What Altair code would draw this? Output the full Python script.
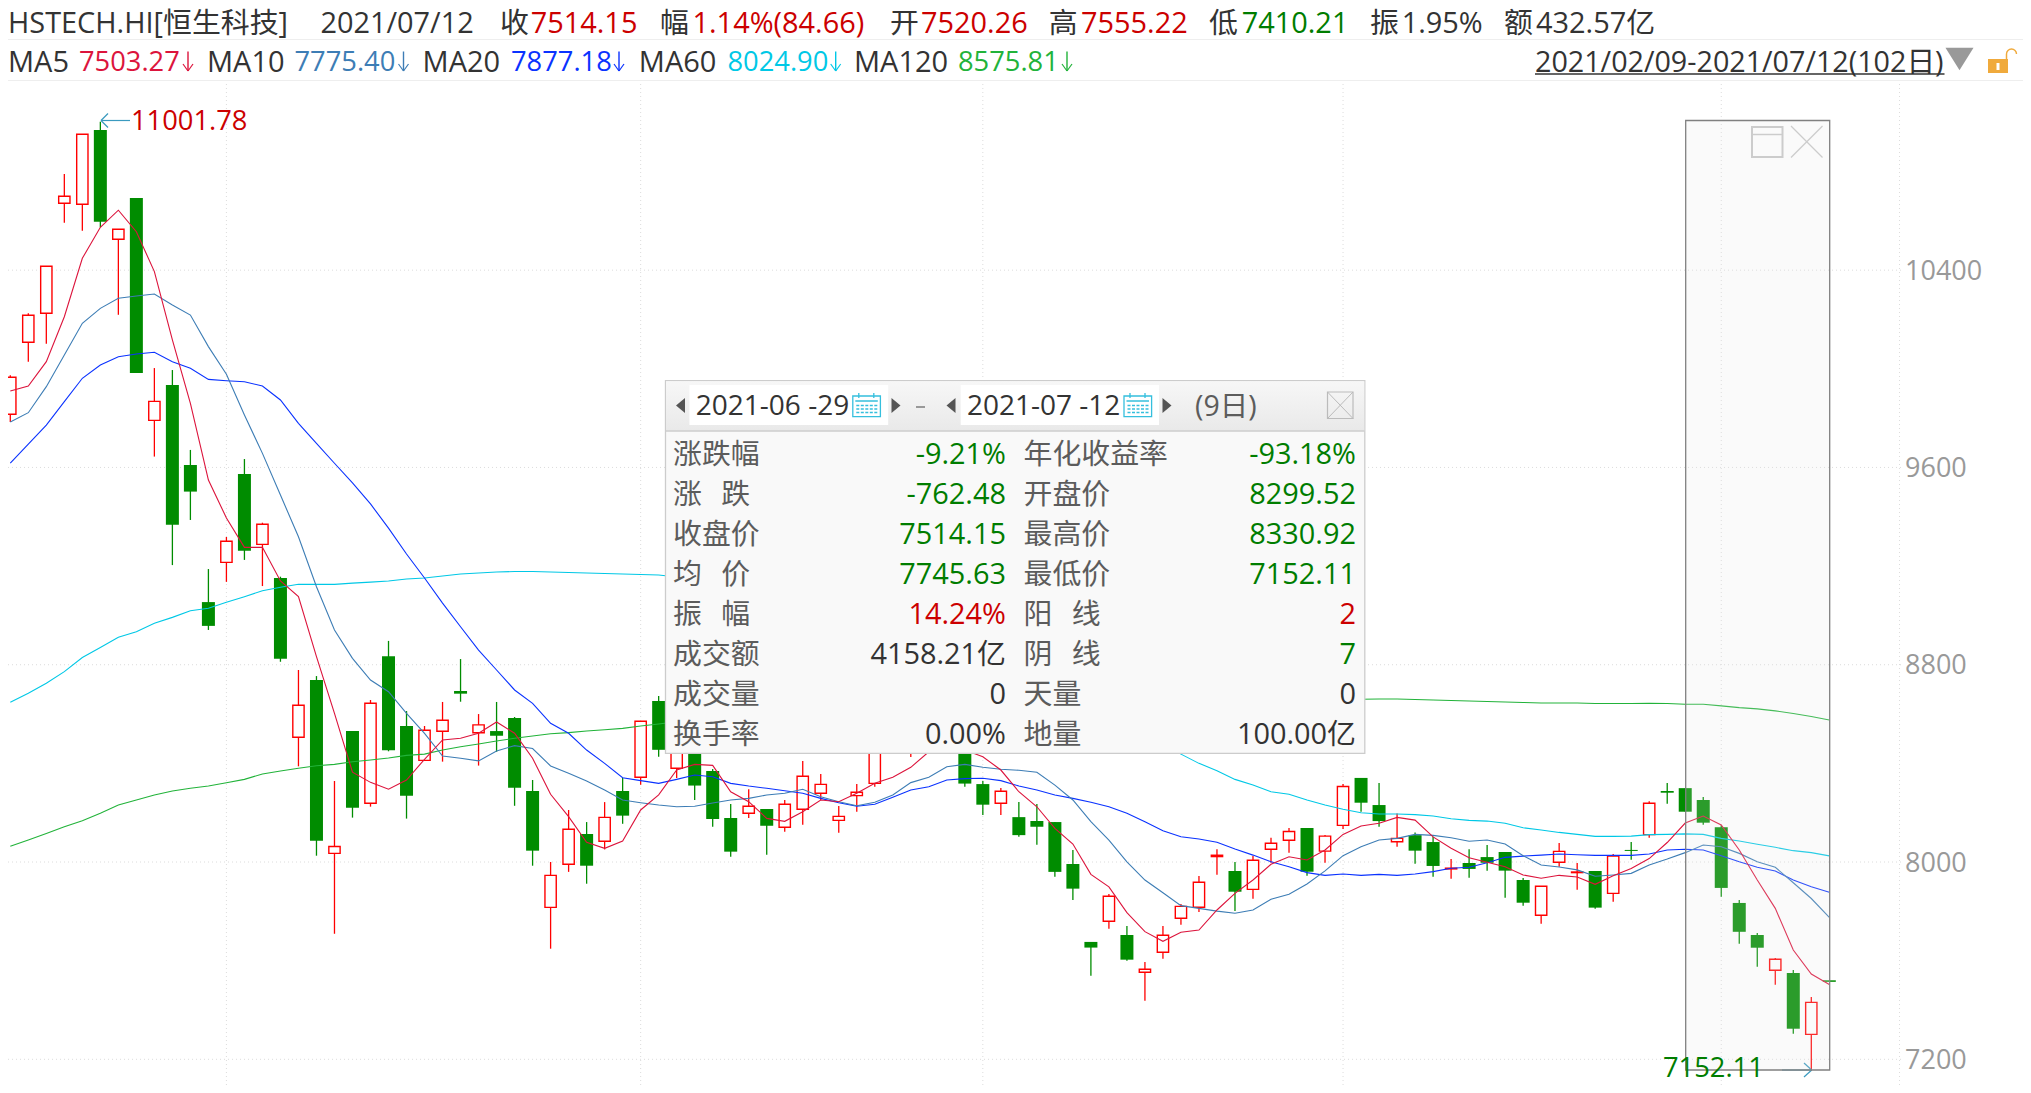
import altair as alt
import pandas as pd

opens = [9815.5,10107.5,10225,10671,10667,10968,10525,10692.6,9791,9934,9610,9054,9215,9573.5,9288,9151.7,8505.7,8738,8035,
8531,8238,8834,8551.6,8412,8530,8693.5,8524,8531,8584,8288,7816,7990.7,8113.6,8084,8288,8343.6,8653,8380,8535,8369,
8178.5,8197.6,8215,8141,8214,8278.6,8169,8269,8319,8474,8474.6,8535,8657,8474.5,8316,8238,8182,8166.3,8162,7992,
7676,7759.6,7704,7553,7634,7772,7816.4,8022,7963.6,7889,8052,8088,8138,8044,8148.6,8341,8231,8082,8109,8081,
7972,7996,8020,8040.6,7927,7784,7999,7957,7963.6,7873,8049,8111,8288,8299.52,8251.5,8141,7834,7704,7561,7550,7301,7520.26]
closes = [9965.5,10217,10416,10699.5,10951,10596,10566,9983,9868,9368,9502,8957.5,9300.5,9262.4,9369.5,8824.5,8635.5,8086.5,8063,
8220,8643.6,8453,8269,8534,8574.7,8682.6,8556,8512,8301,8046,7946,8132.7,7985,8181,8188,8570.6,8455,8515,8310,8174.5,
8042,8226,8147,8234,8347.5,8315,8185,8282.7,8474,8559,8576,8657,8494,8318,8232.5,8287,8109,8143,7960,7892,
7653,7861,7604,7565,7703,7820,7917.8,8027.5,7879.6,8007,8076,8124,7960.6,8105,8306,8240.5,8166,8096,8046,7984,
7975,7972,7997,7965,7835,7901.6,8043,7959.5,7815,8024,8045,8238,8281,8204,8159.5,7895,7717,7652.5,7605.5,7324,7431,7514.15]
highs = [9974,10225,10416,10790,10951,11001.78,10566,10692.6,10003,9995,9671,9188,9318,9634,9376,9157,8778.6,8754,8328.5,
8531,8657,8896.6,8612,8551.6,8649,8823,8600,8649,8588,8332.6,8000,8211,8162,8243,8342,8570.6,8673,8515,8535,8377,
8235.3,8295,8215,8251.5,8409.6,8357,8227,8316,8494,8579,8596,8677,8677,8494,8328.5,8300,8243,8235,8162,8049,
7676,7870,7740.5,7594.5,7740.5,7830,7943,8052,8000,8024,8098,8138,8138,8110,8316,8341,8320,8197,8120,8102.6,
8012,8052,8069,8040.6,7935,7901.6,8077,7996,7963.6,8032.5,8081,8246,8320,8299.52,8263.6,8149,7846,7712,7611,7562,7452.6,7555.22]
lows = [9784,10029,10102,10592,10560,10574,10219,9983,9644,9204,9387,8941,9136,9225,9119,8812,8388,8025.6,7709,
8180,8224.4,8449,8176,8412,8407,8650,8391,8447,8228,7985,7648.5,7960,7912,8051,8155,8313,8427,8340.6,8251.5,8143,
8021.5,8178.5,8029,8123,8151,8251.5,8119,8204,8305,8454,8426,8494,8474,8305,8190.6,8190.6,8102.6,8070,7940,7846,
7539,7729.6,7600,7437.6,7608,7746,7797,7948,7801,7851,7997,8038,7944.5,7997,8133.8,8204,8143,8062,7993,7940.6,
7932,7936,7965,7855,7823,7750,7981,7888,7810,7839,8009,8098.6,8236,8204,8151,7859,7669,7575,7502.5,7304,7152.11,7410.21]

ma5 = [9910,9930,10029,10211,10448,10574,10643,10556,10394,10117,9860,9549,9395,9276,9276,9139.5,9076,8832.6,8603,8364,
8323,8295,8332.6,8416.6,8495,8502,8522,8568,8522,8420.7,8274.6,8184,8080,8055.6,8085,8211,8272,8373,8396,8392,
8285,8244.6,8177,8165,8204,8251.5,8244.6,8278.6,8319,8343.5,8384,8447,8462,8454,8427,8373,8285,8224,8136,8073,
7950,7899,7794.6,7717.5,7678.5,7715,7724,7805.5,7873,7927,7990.7,8021.5,8008,8049,8112,8146,8157,8181,8170,8102,
8055.6,8017.5,7999,7981,7947.6,7934,7946,7939,7909.6,7944,7974,8014,8079,8158,8186.6,8150,8049,7927,7812,7643,7546,7503.27]
ma10 = [9784,9822,9927.5,10056,10184.5,10245,10286,10295,10303,10259,10218,10090,9977.7,9812.7,9657,9488,9319,9116,8941,8826,
8738,8690.6,8603,8522,8430,8420.7,8410,8450.5,8472,8460,8389.6,8360,8328.5,8292,8251.5,8240.6,8231,8224,8226,8239,
8251.5,8258,8272,8278.6,8295,8265,8244.6,8228,8242,8272,8322,8343.5,8386.5,8396,8384,8376,8372,8364,8312,8251.5,
8163.5,8089,8001,7927,7875.5,7823,7812,7801,7792,7805.5,7849,7869,7911,7964,8025.6,8062,8089,8096,8112,8108,
8098.6,8084,8089,8073,8025.6,7988,7980,7968,7942,7947.6,7954,7988,8012,8038,8069,8062,8035,8001,7978.6,7916,7852,7775.40]
ma20 = [9617,9695,9772,9866.6,9961.5,10015.5,10049,10060,10067,10029,10002,9957,9951.8,9947.7,9930,9873.5,9779,9698,9617,9537,
9452,9354,9249,9151.7,9050,8954,8859.6,8778.6,8697.6,8643.6,8562.5,8522,8454,8400,8342,8330,8319,8335,8352.6,8345.6,
8319,8308,8299,8289,8278.6,8258,8240.6,8226,8234,8262.5,8292,8305.5,8332.6,8338,8339.5,8330,8308,8292,8272,8258,
8242,8224,8197.6,8163.5,8127,8102.6,8093,8080,8052.6,8028,8001,7981,7957,7946,7951.5,7946,7950,7946,7951.5,7961,
7975,7979,7997,8019,8024,8028,8032.5,8029.6,8027,8027,8027,8032.5,8049,8051.6,8049,8025.6,8001,7978.6,7963.6,7927,7900,7877.18]
ma60 = [8647.6,8684,8725,8772,8829,8869.5,8911.6,8934,8968.6,8992,9019,9029,9053,9076,9100,9114,9126,9126,9126,9131,
9135,9139.5,9147.6,9151.7,9160,9168,9172,9176,9178,9178,9176,9174,9172,9170,9168,9166,9164,9156,9144,9131,
9115,9099,9083,9062,9042,9022,8998,8973,8949,8925,8900,8872,8844,8815,8787,8759,8730,8702,8674,8645,
8613,8580,8548,8515,8475,8437.5,8400,8370,8335,8312,8285,8274.6,8251.5,8231,8214,8200,8194.6,8194.6,8192,8186.6,
8175.6,8169,8166,8157,8139,8130,8120,8112,8104,8104,8105,8111,8112,8114,8112,8096,8085,8072,8059.6,8046,8038,8024.90]
ma120 = [8063.8,8089,8116,8143,8167.5,8197.6,8231,8251.5,8272,8288,8299,8308,8321.6,8335,8357,8369,8380,8390.6,8396,8406.6,
8413.5,8421.6,8432.5,8437.6,8454,8467.5,8478.5,8490.6,8501.6,8511,8520,8524.6,8531,8536.6,8542,8551.6,8559.6,8569,8576,8580,
8588,8592,8600,8604,8612,8616,8620,8624,8628,8632,8636,8640,8644,8649,8651,8653,8655,8657,8659,8659,
8661,8661,8661,8663,8663,8663,8663,8663,8663,8661,8661,8661,8661,8661,8661,8660,8661,8661,8659,8657,
8655,8653,8651,8649,8647,8645,8645,8645,8643,8643,8643,8644,8643,8640,8640,8633,8626,8621,8613,8602,8590,8575.81]

y_ticks = [7200, 8000, 8800, 9600, 10400]
month_starts = [12, 35, 54, 74, 95]

for arr in (opens, closes, highs, lows, ma5, ma10, ma20, ma60, ma120):
    assert len(arr) == 102, len(arr)

FONT = "Open Sans, Noto Sans CJK SC"
RED, GREEN, DARK = "#cc0000", "#007d00", "#333333"
GREY = "#5c5c5c"
CANDLE_RED, CANDLE_GREEN = "#ff0000", "#008c00"
MA_COL = {"ma5": "#dc143c", "ma10": "#3d7db5", "ma20": "#0a32ff", "ma60": "#00c8e6", "ma120": "#22b33a"}

W, H, M = 2015, 1077, 8
XS = alt.Scale(domain=[-2.3 / 18.01, (W - 2.3) / 18.01], nice=False, zero=False, padding=0)
YS = alt.Scale(domain=[7200 + (1059.3 - 1085) * 4.055, 7200 + (1059.3 - 8) * 4.055], nice=False, zero=False, padding=0)
one = pd.DataFrame({"k": [0]})

df = pd.DataFrame({"i": range(102), "open": opens, "close": closes, "high": highs, "low": lows})
df["top"] = df[["open", "close"]].max(axis=1)
df["bot"] = df[["open", "close"]].min(axis=1)
up = df[df.close >= df.open]
down = df[df.close < df.open]
X = alt.X("i:Q", scale=XS, axis=None)


def Y(f):
    return alt.Y(f + ":Q", scale=YS, axis=None)


def text(s, x, y, color=DARK, size=28.9, align="left", **kw):
    return alt.Chart(one).mark_text(text=s, font=FONT, fontSize=size, color=color, align=align,
                                    baseline="middle", **kw).encode(x=alt.value(x - M), y=alt.value(y - M))


def rect(x0, x1, y0, y1, **kw):
    return alt.Chart(one).mark_rect(**kw).encode(x=alt.value(x0 - M), x2=alt.value(x1 - M),
                                                 y=alt.value(y0 - M), y2=alt.value(y1 - M))


def rule(x0, y0, x1, y1, color, width=1.0, **kw):
    return alt.Chart(one).mark_rule(color=color, strokeWidth=width, **kw).encode(
        x=alt.value(x0 - M), x2=alt.value(x1 - M), y=alt.value(y0 - M), y2=alt.value(y1 - M))


def glyph(path, size, x, y, color):
    return alt.Chart(one).mark_point(shape=path, size=size, filled=True, color=color, opacity=1).encode(
        x=alt.value(x - M), y=alt.value(y - M))


TRI_L = "M0.6,-1L-0.6,0L0.6,1Z"
TRI_R = "M-0.6,-1L0.6,0L-0.6,1Z"
TRI_D = "M-1,-0.8L1,-0.8L0,0.8Z"

layers = []
# grid and price labels
grid_dash = [1, 3]
ticks_df = pd.DataFrame({"tick": y_ticks})
layers.append(alt.Chart(ticks_df).mark_rule(color="#dcdcdc", strokeDash=grid_dash).encode(
    y=Y("tick"), x=alt.value(0), x2=alt.value(1903 - M)))
layers.append(alt.Chart(ticks_df).mark_text(font=FONT, fontSize=27, color="#999999", align="left", baseline="middle", dy=1.5).encode(
    y=Y("tick"), x=alt.value(1905 - M), text="tick:Q"))
layers.append(alt.Chart(pd.DataFrame({"i": month_starts})).mark_rule(color="#dcdcdc", strokeDash=grid_dash).encode(
    x=X, y=alt.value(80 - M), y2=alt.value(H)))
layers.append(rule(1899.5, 80, 1899.5, 1085, "#dcdcdc", strokeDash=grid_dash))
layers.append(rule(8, 39.5, 2023, 39.5, "#eeeeee"))
layers.append(rule(8, 80.5, 2023, 80.5, "#eeeeee"))

# candles
wick_down = down[down.i < 101]
for d, c in ((wick_down, CANDLE_GREEN), (up, CANDLE_RED)):
    layers.append(alt.Chart(d).mark_rule(color=c, strokeWidth=1.3).encode(x=X, y=Y("low"), y2="high:Q"))
layers.append(alt.Chart(down).mark_bar(size=13, color=CANDLE_GREEN).encode(x=X, y=Y("top"), y2="bot:Q"))
layers.append(alt.Chart(up).mark_bar(size=11.3, fill="#ffffff", stroke=CANDLE_RED, strokeWidth=1.4).encode(x=X, y=Y("top"), y2="bot:Q"))

# moving averages
for name, vals in (("ma120", ma120), ("ma60", ma60), ("ma20", ma20), ("ma10", ma10), ("ma5", ma5)):
    layers.append(alt.Chart(pd.DataFrame({"i": range(102), name: vals})).mark_line(color=MA_COL[name], strokeWidth=1.1).encode(x=X, y=Y(name)))

# high / low call-outs
TEAL = "#3a9abf"
layers += [
    rule(130, 120.5, 101, 120.5, TEAL, 1.2), rule(101, 120.5, 108, 113.5, TEAL, 1.2), rule(101, 120.5, 108, 127.5, TEAL, 1.2),
    text("11001.78", 131, 122, RED, 27.3),
    rule(1782, 1070, 1811.7, 1070, TEAL, 1.2), rule(1811.7, 1070, 1804, 1063, TEAL, 1.2), rule(1811.7, 1070, 1804, 1077, TEAL, 1.2),
]

# selected range
layers.append(rect(1685.7, 1829.7, 120.5, 1070, fill="#e5e5e5", fillOpacity=0.19, stroke="#808080", strokeWidth=1.3, strokeOpacity=1))
layers.append(text("7152.11", 1663, 1068.7, GREEN, 27.3))
ICON = "#cccccc"
layers += [
    rect(1752, 1782.5, 127, 157, fillOpacity=0, stroke=ICON, strokeWidth=2),
    rule(1752, 134.5, 1782.5, 134.5, ICON, 1.5),
    rule(1791, 126, 1822.5, 157.5, ICON, 1.2),
    rule(1822.5, 126, 1791, 157.5, ICON, 1.2),
]

# range statistics panel
layers.append(rect(665.5, 1364.8, 380.7, 753.3, fill="#f9f9f9", stroke="#cccccc", strokeWidth=1.3))
layers.append(rect(666, 1364.3, 381.2, 430.7, stroke="#cccccc", strokeWidth=0,
                   fill=alt.Gradient(gradient="linear", x1=0, x2=0, y1=0, y2=1,
                                     stops=[alt.GradientStop(color="#f7f7f7", offset=0), alt.GradientStop(color="#e9e9e9", offset=1)])))
layers.append(rule(666, 431, 1364.5, 431, "#cccccc", 1.3))
CAL = "#35bfdd"
for bx0, bx1, s, tx, cx in ((689.4, 888.2, "2021-06 -29", 695.8, 852.8), (960.7, 1159, "2021-07 -12", 967, 1124)):
    layers.append(rect(bx0, bx1, 385, 425, fill="#ffffff"))
    layers.append(text(s, tx, 406.5, DARK, 28))
    layers.append(rect(cx, cx + 27.6, 396, 416.7, fillOpacity=0, stroke=CAL, strokeWidth=1.3))
    layers.append(rule(cx + 6, 393, cx + 6, 398, CAL, 1.3))
    layers.append(rule(cx + 21, 393, cx + 21, 398, CAL, 1.3))
    layers.append(rule(cx + 2.5, 401, cx + 25, 401, CAL, 1.5))
    for ry in (405.5, 409, 412.5):
        layers.append(rule(cx + 3.5, ry, cx + 24.5, ry, CAL, 1.6, strokeDash=[3, 1.5]))
layers += [
    glyph(TRI_L, 225, 680.5, 405.5, "#555555"), glyph(TRI_R, 225, 896, 405.5, "#555555"),
    glyph(TRI_L, 225, 951, 405.5, "#555555"), glyph(TRI_R, 225, 1167, 405.5, "#555555"),
    rule(916, 407, 925, 407, "#999999", 2),
    text("(9日)", 1195, 406.5, GREY, 28.5),
    rect(1327.5, 1353, 392, 418.5, fillOpacity=0, stroke="#bbbbbb", strokeWidth=1.2),
    rule(1327.5, 392, 1353, 418.5, "#bbbbbb", 1), rule(1353, 392, 1327.5, 418.5, "#bbbbbb", 1),
]
stat_rows = [
    ("涨跌幅", "-9.21%", GREEN, "年化收益率", "-93.18%", GREEN),
    ("涨\u2002\u2006跌", "-762.48", GREEN, "开盘价", "8299.52", GREEN),
    ("收盘价", "7514.15", GREEN, "最高价", "8330.92", GREEN),
    ("均\u2002\u2006价", "7745.63", GREEN, "最低价", "7152.11", GREEN),
    ("振\u2002\u2006幅", "14.24%", RED, "阳\u2002\u2006线", "2", RED),
    ("成交额", "4158.21亿", DARK, "阴\u2002\u2006线", "7", GREEN),
    ("成交量", "0", DARK, "天量", "0", DARK),
    ("换手率", "0.00%", DARK, "地量", "100.00亿", DARK),
]
for k, (a, b, bc, c, d, dc) in enumerate(stat_rows):
    ry = 455 + 40 * k
    layers += [text(a, 673, ry, GREY), text(b, 1006, ry, bc, align="right"),
               text(c, 1023.5, ry, GREY), text(d, 1356, ry, dc, align="right")]

# header rows
row1 = [("HSTECH.HI[恒生科技]", 8, DARK), ("2021/07/12", 320.4, DARK), ("收", 500, DARK), ("7514.15", 530.7, RED),
        ("幅", 660, DARK), ("1.14%(84.66)", 692.5, RED), ("开", 890, DARK), ("7520.26", 921, RED),
        ("高", 1048.7, DARK), ("7555.22", 1081, RED), ("低", 1209, DARK), ("7410.21", 1241.7, GREEN),
        ("振", 1370, DARK), ("1.95%", 1401.7, DARK), ("额", 1504, DARK), ("432.57亿", 1536, DARK)]
for s, x, c in row1:
    layers.append(text(s, x, 23.5, c))
row2_names = [("MA5", 8), ("MA10", 207), ("MA20", 422.6), ("MA60", 638.8), ("MA120", 854)]
row2_vals = [("7503.27", 79, "ma5", 188), ("7775.40", 294.5, "ma10", 403.5), ("7877.18", 511, "ma20", 619),
             ("8024.90", 727.5, "ma60", 835.7), ("8575.81", 958, "ma120", 1067)]
for s, x in row2_names:
    layers.append(text(s, x, 62.5, DARK, 29))
for s, x, key, ax in row2_vals:
    c = MA_COL[key]
    layers.append(text(s, x, 62.5, c, 27.3))
    layers += [rule(ax, 51.5, ax, 71, c, 1.4), rule(ax - 5, 64, ax, 71, c, 1.2), rule(ax + 5, 64, ax, 71, c, 1.2)]
layers += [
    text("2021/02/09-2021/07/12(102日)", 1535, 62.5, DARK, 28.7),
    rule(1535, 74, 1944.5, 74, DARK, 1.6),
    glyph(TRI_D, 784, 1959.5, 59, "#999999"),
    rect(1988, 2008, 59, 73, fill="#f0aa3c"),
    rect(1996.5, 1999.5, 63, 70, fill="#ffffff"),
    rule(2006.5, 54, 2006.5, 59, "#f0aa3c", 1.5),
    alt.Chart(one).mark_arc(radius=5.7, radius2=4.3, theta=4.712, theta2=7.854, color="#f0aa3c").encode(
        x=alt.value(2011.5 - M), y=alt.value(54 - M)),
]

chart = alt.layer(*layers).properties(width=W, height=H, padding=0, autosize=alt.AutoSizeParams(type="none")).configure_view(strokeWidth=0)
chart.save("out.html", embed_options={"renderer": "svg", "actions": False})
